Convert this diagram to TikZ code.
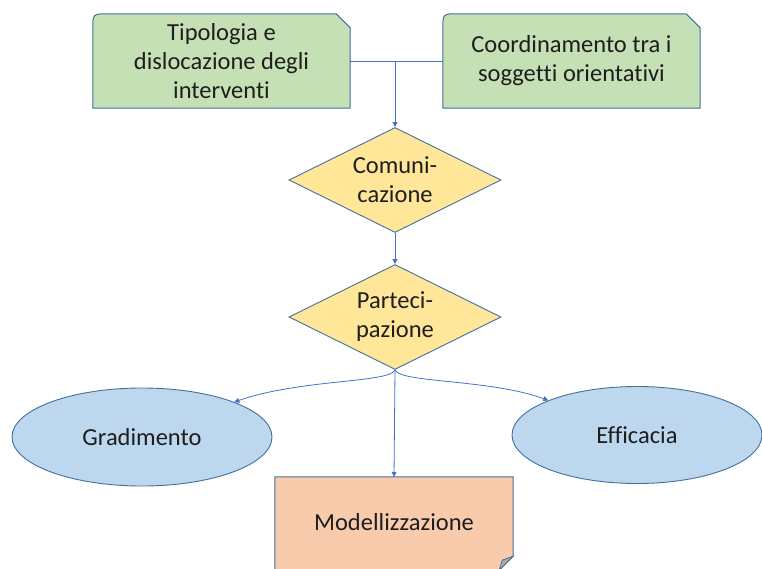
\documentclass[tikz,border=0pt]{standalone}
\usepackage{fontspec}
\setmainfont{Carlito}[Ligatures=NoCommon]
\usetikzlibrary{shapes.geometric,arrows.meta,backgrounds}
\definecolor{greenf}{HTML}{C5E0B4}
\definecolor{yellowf}{HTML}{FFE699}
\definecolor{bluef}{HTML}{BDD7EE}
\definecolor{orangef}{HTML}{F8CBAD}
\definecolor{foldf}{HTML}{BFA595}
\definecolor{edge}{HTML}{41719C}
\definecolor{linec}{HTML}{4472C4}
\definecolor{txt}{HTML}{1E1E1E}
\begin{document}
\begin{tikzpicture}[x=1pt,y=-1pt,
  every node/.style={font=\fontsize{24.5}{29}\selectfont, text=txt, align=center, inner sep=0pt},
  boxshape/.style={draw=edge, line width=1pt, fill=greenf},
  topbox/.style={minimum width=257pt, minimum height=94pt},
  dia/.style={diamond, draw=edge, line width=0.9pt, fill=yellowf, minimum width=212pt, minimum height=105pt, aspect=2},
  ell/.style={ellipse, draw=edge, line width=0.9pt, fill=bluef},
  conn/.style={draw=linec, line width=0.8pt},
  arr/.style={conn, -{Triangle[length=5pt,width=5pt]}}]
\useasboundingbox (0,0) rectangle (762,569);
\clip (0,0) rectangle (762,569);
% top boxes
\node[topbox] (b1) at (221.5,61) {Tipologia e\\dislocazione degli\\interventi};
\node[topbox] (b2) at (571.5,61) {Coordinamento tra i\\soggetti orientativi};
\begin{scope}[on background layer]
\draw[boxshape] (b1.south west) -- ([yshift=-15pt]b1.north west) .. controls (b1.north west) .. ([xshift=15pt]b1.north west) -- ([xshift=-14pt]b1.north east) -- ([yshift=-14pt]b1.north east) -- (b1.south east) -- cycle;
\draw[boxshape] (b2.south west) -- ([yshift=-15pt]b2.north west) .. controls (b2.north west) .. ([xshift=15pt]b2.north west) -- ([xshift=-14pt]b2.north east) -- ([yshift=-14pt]b2.north east) -- (b2.south east) -- cycle;
\end{scope}
% diamonds
\node[dia] (d1) at (395,180) {Comuni-\\cazione};
\node[dia] (d2) at (395,317) {Parteci-\\pazione};
% ellipses
\node[ell, minimum width=260pt, minimum height=98pt] (g) at (142,437) {Gradimento};
\node[ell, minimum width=250pt, minimum height=97pt] (e) at (637,435) {Efficacia};
% bottom box
\node[minimum width=238pt, minimum height=93pt] (m) at (394,523.5) {\raisebox{3pt}{Modellizzazione}};
\begin{scope}[on background layer]
\draw[draw=edge, line width=1pt, fill=orangef] (m.south west) -- (m.north west) -- (m.north east) -- ([yshift=14pt]m.south east) -- ([xshift=-14pt]m.south east) -- cycle;
\draw[draw=edge, line width=0.8pt, fill=foldf] ([yshift=14pt]m.south east) -- ([xshift=-14pt]m.south east) -- ([xshift=-11pt,yshift=10pt]m.south east) -- cycle;
\end{scope}
% connectors
\coordinate (j) at (395,61);
\draw[conn] (b1.east) -- (b2.west);
\draw[arr] (j) -- (d1.north);
\draw[arr] (d1.south) -- (d2.north);
\draw[arr] (d2.south) .. controls (390,383) and (300,379) .. (g.north east);
\draw[arr] (d2.south) .. controls (400,383) and (490,379) .. (e.north west);
\draw[arr] (d2.south) -- (m.north);
\end{tikzpicture}
\end{document}
